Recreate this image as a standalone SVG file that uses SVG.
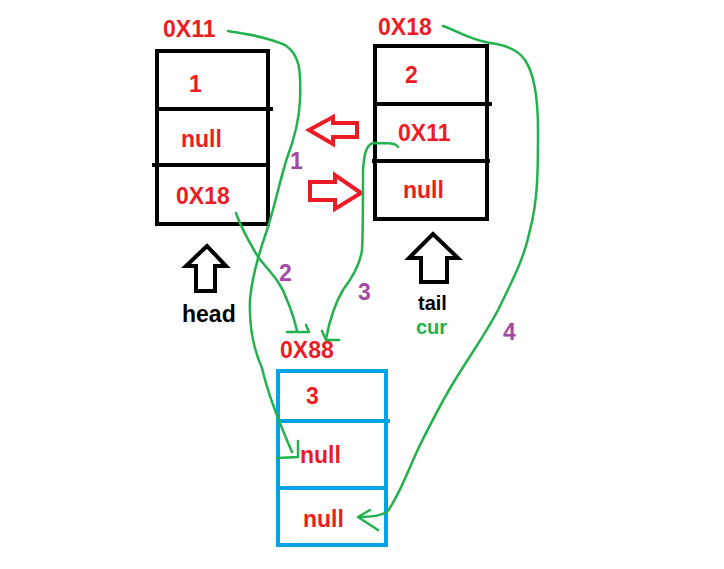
<svg xmlns="http://www.w3.org/2000/svg" width="724" height="569" viewBox="0 0 724 569">
<style>
.t{font-family:"Liberation Sans",Arial,sans-serif;font-weight:bold;font-size:23px}
.r{fill:#ED1C24}
.k{fill:#000}
.g{fill:#22B14C}
.p{fill:#A349A4;font-size:23px}
.bk{fill:none;stroke:#000;stroke-width:4}
.bl{fill:none;stroke:#00A2E8;stroke-width:4}
.gl{fill:none;stroke:#22B14C;stroke-width:2.5;stroke-linecap:round;stroke-linejoin:round}
.ra{fill:none;stroke:#ED1C24;stroke-width:4;stroke-linejoin:miter}
.ka{fill:none;stroke:#000;stroke-width:4;stroke-linejoin:miter}
</style>
<rect width="724" height="569" fill="#fff"/>
<g id="node1">
<rect class="bk" x="157" y="51" width="111" height="173"/>
<line class="bk" x1="157" y1="109" x2="273" y2="109"/>
<line class="bk" x1="152" y1="165" x2="268" y2="165"/>
<text class="t r" x="163" y="37">0X11</text>
<text class="t r" x="189" y="92">1</text>
<text class="t r" x="181" y="147">null</text>
<text class="t r" x="176" y="204">0X18</text>
</g>
<g id="node2">
<rect class="bk" x="375" y="46" width="112" height="173"/>
<line class="bk" x1="375" y1="104" x2="492" y2="104"/>
<line class="bk" x1="372" y1="161" x2="490" y2="161"/>
<text class="t r" x="378" y="35">0X18</text>
<text class="t r" x="405" y="83">2</text>
<text class="t r" x="398" y="141">0X11</text>
<text class="t r" x="403" y="198">null</text>
</g>
<g id="node3">
<rect class="bl" x="278" y="371" width="108" height="174"/>
<line class="bl" x1="278" y1="421" x2="390" y2="421"/>
<line class="bl" x1="278" y1="488" x2="388" y2="488"/>
<text class="t r" x="280" y="358">0X88</text>
<text class="t r" x="306" y="404">3</text>
<text class="t r" x="300" y="463">null</text>
<text class="t r" x="303" y="527">null</text>
</g>
<g id="red-arrows">
<polygon class="ra" points="309,130 333,117 333,123 357,123 357,137 333,137 333,144"/>
<polygon class="ra" points="310,182 335,182 335,175 361,193 335,209 335,200 310,200"/>
</g>
<g id="head">
<polygon class="ka" points="207,246 186,266 196,266 196,291 215,291 215,266 226,266"/>
<text class="t k" x="182" y="322">head</text>
</g>
<g id="tail">
<polygon class="ka" points="433,234 409,258 421,258 421,282 447,282 447,258 458,258"/>
<text class="t k" x="418" y="310" style="font-size:20px">tail</text>
<text class="t g" x="416" y="334" style="font-size:20px">cur</text>
</g>
<g id="connectors">
<path class="gl" d="M228,31 C245,34 265,36 285,45 C300,55 301,70 300,100 C299,125 292,145 287,158 C280,180 275,205 267,230 C260,250 252,275 250,300 C249,325 254,350 262,368 C268,395 278,420 292,452"/>
<path class="gl" d="M298,441 L298,457 L277,458"/>
<path class="gl" d="M236,213 C240,225 248,240 258,257 C268,270 280,280 287,300 C292,312 295,322 297,331"/>
<path class="gl" d="M287,332 L309,332 L306,325"/>
<path class="gl" d="M398,147 C396,143 390,143 373,143 C366,145 364,155 363,170 C363,200 363,235 362,250 C360,265 352,278 343,290 C337,300 330,318 326,339"/>
<path class="gl" d="M322,331 L326,340 L339,340"/>
<path class="gl" d="M443,26 C455,30 470,40 490,43 C507,45 518,50 525,60 C535,75 538,100 538,130 C538,170 538,200 530,230 C524,260 510,285 498,310 C485,335 470,355 452,385 C440,405 430,425 420,445 C410,465 400,495 387,512 C380,516 372,517 360,517"/>
<path class="gl" d="M370,510 L358,517 L378,530"/>
<text class="t p" x="290" y="169">1</text>
<text class="t p" x="279" y="281">2</text>
<text class="t p" x="358" y="300">3</text>
<text class="t p" x="503" y="340">4</text>
</g>
</svg>
